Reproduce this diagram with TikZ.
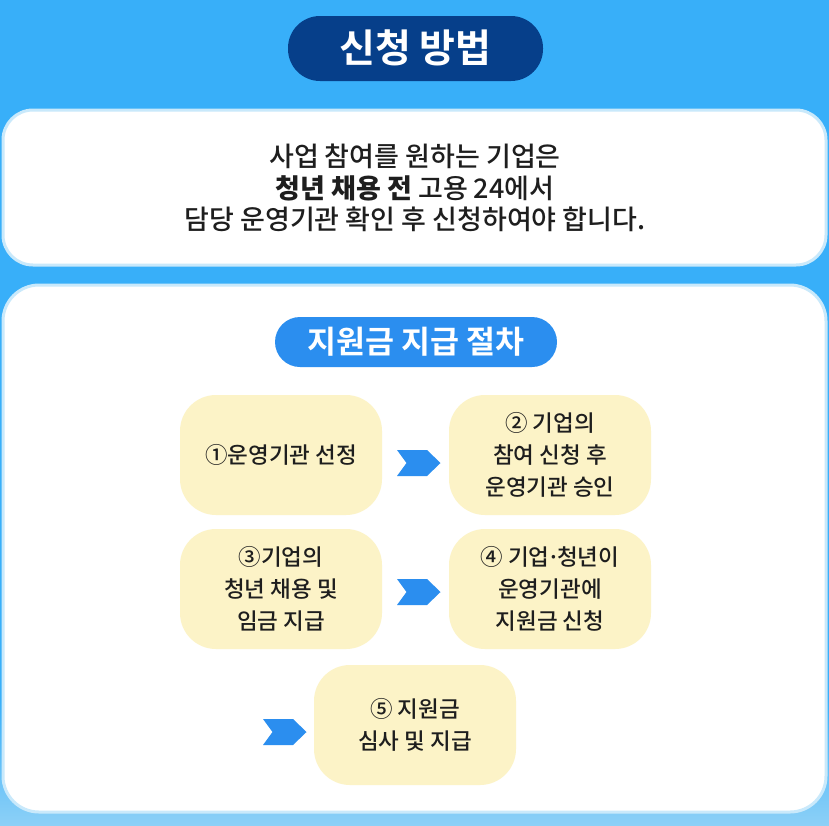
\documentclass[tikz,border=0pt]{standalone}
\usepackage{fontspec}
\setmainfont{Noto Sans CJK KR Medium}[BoldFont={Noto Sans CJK KR Black}]
\newfontfamily\heavy{Noto Sans CJK KR Bold}
\definecolor{bgblue}{HTML}{38AFF9}
\definecolor{bglight}{HTML}{8CD0F7}
\definecolor{navy}{HTML}{063F8A}
\definecolor{midblue}{HTML}{2B8EEF}
\definecolor{paleyellow}{HTML}{FCF3C7}
\definecolor{edgeblue}{HTML}{C9E9FB}
\definecolor{txt}{HTML}{1E1E1E}
\tikzset{
  panel/.style={fill=white, draw=edgeblue, line width=3pt, rounded corners=30pt},
  stepbox/.style={fill=paleyellow, rounded corners=36pt, minimum width=202pt, minimum height=120pt,
    text=txt, align=center, font=\fontsize{22.5}{32}\selectfont, inner sep=0pt},
  chev/.style={fill=midblue}
}
\newcommand{\chevron}[1]{%
  \fill[chev] ($(#1)+(-21.5,-13)$) -- ++(30,0) -- ++(13.5,13) -- ++(-13.5,13) -- ++(-30,0) -- ++(9.5,-13) -- cycle;}
\newcommand{\mdot}{\kern-0.12em·\kern-0.12em}
\usetikzlibrary{calc}
\begin{document}
\begin{tikzpicture}[x=1pt,y=-1pt]
\useasboundingbox (0,0) rectangle (829,825);
% background
\fill[bgblue] (0,0) rectangle (829,825);
\shade[top color=bgblue, bottom color=bglight] (0,700) rectangle (829,825);
% title pill
\fill[navy, rounded corners=32pt] (288,16) rectangle (543,81);
\node[text=white, font=\heavy\fontsize{39}{40}\selectfont, inner sep=0pt] (title) at (415.5,48) {신청 방법};
% panel 1
\draw[panel] (3,110) rectangle (826,265);
\node[text=txt, align=center, font=\fontsize{27}{31.5}\selectfont] (intro) at (415,188)
  {사업 참여를 원하는 기업은\\ \textbf{청년 채용 전} 고용 24에서\\ 담당 운영기관 확인 후 신청하여야 합니다.};
% panel 2
\draw[panel, rounded corners=36pt] (3,285) rectangle (826,812);
\fill[midblue, rounded corners=25pt] (275,317) rectangle (557,367);
\node[text=white, font=\heavy\fontsize{31.5}{34}\selectfont, inner sep=0pt] (sub) at (416,342) {지원금 지급 절차};
% steps
\node[stepbox] (s1) at (281,455) {①운영기관 선정};
\node[stepbox] (s2) at (550,455) {② 기업의\\ 참여 신청 후\\ 운영기관 승인};
\node[stepbox] (s3) at (281,589) {③기업의\\ 청년 채용 및\\ 임금 지급};
\node[stepbox] (s4) at (550,589) {④ 기업\mdot 청년이\\ 운영기관에\\ 지원금 신청};
\node[stepbox] (s5) at (415,725) {⑤ 지원금\\ 심사 및 지급};
% chevrons
\coordinate (c1) at (418.5,463);
\coordinate (c2) at (418.5,592);
\coordinate (c3) at (284.5,732);
\chevron{c1}
\chevron{c2}
\chevron{c3}
\end{tikzpicture}
\end{document}
